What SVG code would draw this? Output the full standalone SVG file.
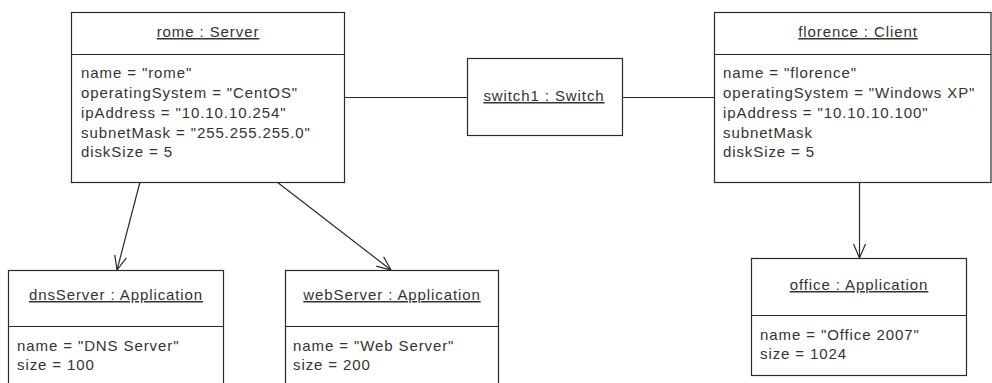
<svg xmlns="http://www.w3.org/2000/svg" width="992" height="383" viewBox="0 0 992 383">
<style>
.box{fill:#fff;stroke:#2a2a2a;stroke-width:1.2}
.div{stroke:#2a2a2a;stroke-width:1.2}
text{font-family:"Liberation Sans",Arial,sans-serif;font-size:15px;fill:#333;letter-spacing:0.9px}
.title{text-anchor:middle;text-decoration:underline}
.conn{stroke:#2a2a2a;stroke-width:1.2;fill:none}
</style>
<defs>
<marker id="open" markerUnits="userSpaceOnUse" markerWidth="16" markerHeight="14" viewBox="0 0 16 14" refX="15" refY="7" orient="auto">
<path d="M1,1 L15,7 L1,13" fill="none" stroke="#2a2a2a" stroke-width="1.2"/>
</marker>
</defs>
<g id="connectors">
<line class="conn" x1="344" y1="97.5" x2="467" y2="97.5"/>
<line class="conn" x1="622" y1="97.5" x2="714" y2="97.5"/>
<line class="conn" x1="140" y1="182" x2="117" y2="270" marker-end="url(#open)"/>
<line class="conn" x1="277" y1="182" x2="391" y2="270" marker-end="url(#open)"/>
<line class="conn" x1="859.5" y1="182" x2="859.5" y2="258" marker-end="url(#open)"/>
</g>
<g id="rome">
<rect class="box" x="71.5" y="12.5" width="273" height="170"/>
<line class="div" x1="71.5" y1="54.5" x2="344.5" y2="54.5"/>
<text class="title" x="208" y="37">rome : Server</text>
<text x="81" y="78">name = "rome"</text>
<text x="81" y="98">operatingSystem = "CentOS"</text>
<text x="81" y="118">ipAddress = "10.10.10.254"</text>
<text x="81" y="137.5">subnetMask = "255.255.255.0"</text>
<text x="81" y="157">diskSize = 5</text>
</g>
<g id="switch1">
<rect class="box" x="467.5" y="58.5" width="155" height="77"/>
<text class="title" x="544" y="101">switch1 : Switch</text>
</g>
<g id="florence">
<rect class="box" x="714.5" y="12.5" width="276.5" height="170"/>
<line class="div" x1="714.5" y1="54.5" x2="991" y2="54.5"/>
<text class="title" x="858" y="37">florence : Client</text>
<text x="723" y="78">name = "florence"</text>
<text x="723" y="98">operatingSystem = "Windows XP"</text>
<text x="723" y="118">ipAddress = "10.10.10.100"</text>
<text x="723" y="137.5">subnetMask</text>
<text x="723" y="157">diskSize = 5</text>
</g>
<g id="dnsServer">
<rect class="box" x="8.5" y="270.5" width="215" height="130"/>
<line class="div" x1="8.5" y1="326.5" x2="223.5" y2="326.5"/>
<text class="title" x="116" y="300">dnsServer : Application</text>
<text x="17" y="351">name = "DNS Server"</text>
<text x="17" y="370">size = 100</text>
</g>
<g id="webServer">
<rect class="box" x="285.5" y="270.5" width="213" height="130"/>
<line class="div" x1="285.5" y1="326.5" x2="498.5" y2="326.5"/>
<text class="title" x="392" y="300">webServer : Application</text>
<text x="293" y="351">name = "Web Server"</text>
<text x="293" y="370">size = 200</text>
</g>
<g id="office">
<rect class="box" x="751.5" y="258.5" width="215" height="117"/>
<line class="div" x1="751.5" y1="315.5" x2="966.5" y2="315.5"/>
<text class="title" x="859" y="290">office : Application</text>
<text x="760" y="340">name = "Office 2007"</text>
<text x="760" y="359">size = 1024</text>
</g>
</svg>
